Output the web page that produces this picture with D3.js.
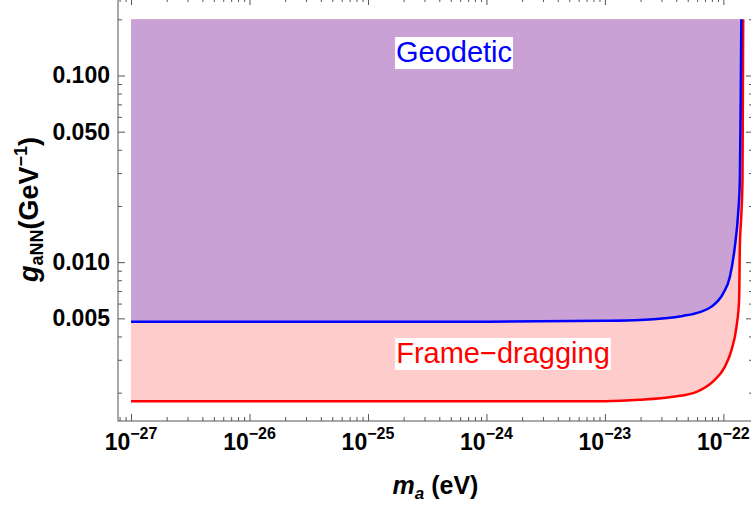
<!DOCTYPE html>
<html>
<head>
<meta charset="utf-8">
<script src="https://cdn.jsdelivr.net/npm/d3@7"></script>
<style>
  body { margin: 0; background: #fff; }
  svg { display: block; font-family: "Liberation Sans", Arial, sans-serif; }
</style>
</head>
<body>
<div id="chart"></div>
<script>
// curve: axion mass (eV) vs coupling (GeV^-1)
const geoMass = [1e-27, 1e-26, 1e-25, 1e-24, 1e-23, 1.97e-23, 4.55e-23, 6.32e-23, 7.94e-23,
  9.96e-23, 1.135e-22, 1.25e-22, 1.333e-22, 1.377e-22, 1.40e-22, 1.418e-22];
const geoCoupling = [0.0048, 0.0048, 0.0048, 0.0048, 0.00485, 0.0049, 0.00515, 0.0054, 0.00578,
  0.0068, 0.00836, 0.0121, 0.0183, 0.0275, 0.074, 0.2];

const fdMass = [1e-27, 1e-26, 1e-25, 1e-24, 1e-23, 1.97e-23, 3.75e-23, 5.94e-23, 8.15e-23,
  1.028e-22, 1.172e-22, 1.29e-22, 1.358e-22, 1.377e-22, 1.42e-22, 1.45e-22, 1.46e-22, 1.47e-22];
const fdCoupling = [0.0018, 0.0018, 0.0018, 0.0018, 0.0018, 0.00183, 0.0019, 0.00202, 0.00229,
  0.00275, 0.00339, 0.00451, 0.00627, 0.0121, 0.0183, 0.0275, 0.074, 0.2];

const fillTop = 0.2;

const xMajor = [1e-27, 1e-26, 1e-25, 1e-24, 1e-23, 1e-22];
const xExponents = ["\u221227", "\u221226", "\u221225", "\u221224", "\u221223", "\u221222"];
const yMajor = [0.005, 0.01, 0.05, 0.1];
const yLabels = ["0.005", "0.010", "0.050", "0.100"];

const width = 751, height = 506;
const pLeft = 118, pRight = 753, pTop = -2, pBottom = 421;

const svg = d3.select('#chart')
  .append('svg')
  .attr('width', width)
  .attr('height', height);

const x = d3.scaleLog()
  .domain([Math.pow(10, -27.11), Math.pow(10, -21.75)])
  .range([pLeft, pRight]);

const y = d3.scaleLog()
  .domain([0.00141, 0.26])
  .range([pBottom, pTop]);

// minor ticks, 2..9 in every decade
const xMinor = [];
for (let e = -28; e <= -22; e++) {
  for (let k = 2; k <= 9; k++) {
    const v = k * Math.pow(10, e);
    if (v > x.domain()[0] && v < x.domain()[1]) xMinor.push(v);
  }
}
const yMinor = [];
for (let e = -3; e <= -1; e++) {
  for (let k = 1; k <= 9; k++) {
    const v = k * Math.pow(10, e);
    if (v > y.domain()[0] && v < y.domain()[1] && !yMajor.some(m => Math.abs(m - v) < 1e-9)) yMinor.push(v);
  }
}

const plot = svg.append('g');

svg.append('clipPath').attr('id', 'clip')
  .append('rect')
  .attr('x', pLeft).attr('y', pTop)
  .attr('width', pRight - pLeft).attr('height', pBottom - pTop);

const fdData = fdMass.map((m, i) => ({ m: m, g: fdCoupling[i] }));
const geoData = geoMass.map((m, i) => ({ m: m, g: geoCoupling[i] }));

const area = d3.area()
  .x(d => x(d.m))
  .y0(y(fillTop))
  .y1(d => y(d.g))
  .curve(d3.curveMonotoneX);

const line = d3.line()
  .x(d => x(d.m))
  .y(d => y(d.g))
  .curve(d3.curveMonotoneX);

const marks = plot.append('g').attr('clip-path', 'url(#clip)');

marks.append('path')
  .datum(fdData)
  .attr('d', area)
  .attr('fill', '#ffcccc');

marks.append('path')
  .datum(geoData)
  .attr('d', area)
  .attr('fill', '#c9a1d4');

marks.append('path')
  .datum(fdData)
  .attr('d', line)
  .attr('fill', 'none')
  .attr('stroke', '#ff0000')
  .attr('stroke-width', 2.5);

marks.append('path')
  .datum(geoData)
  .attr('d', line)
  .attr('fill', 'none')
  .attr('stroke', '#0000ff')
  .attr('stroke-width', 2.5);

// frame with inward ticks on all four sides
const frameColor = '#555';
function tickGroup(axis, transform) {
  const g = svg.append('g').attr('transform', transform).call(axis);
  g.select('.domain').remove();
  g.selectAll('line').attr('stroke', frameColor);
  g.selectAll('text').remove();
  return g;
}
tickGroup(d3.axisBottom(x).tickValues(xMajor).tickSize(-7), `translate(0,${pBottom})`);
tickGroup(d3.axisBottom(x).tickValues(xMinor).tickSize(-4), `translate(0,${pBottom})`);
tickGroup(d3.axisTop(x).tickValues(xMajor).tickSize(-7), `translate(0,${pTop})`);
tickGroup(d3.axisTop(x).tickValues(xMinor).tickSize(-4), `translate(0,${pTop})`);
tickGroup(d3.axisLeft(y).tickValues(yMajor).tickSize(-7), `translate(${pLeft},0)`);
tickGroup(d3.axisLeft(y).tickValues(yMinor).tickSize(-4), `translate(${pLeft},0)`);
tickGroup(d3.axisRight(y).tickValues(yMajor).tickSize(-7), `translate(${pRight},0)`);
tickGroup(d3.axisRight(y).tickValues(yMinor).tickSize(-4), `translate(${pRight},0)`);

svg.append('rect')
  .attr('x', pLeft).attr('y', pTop)
  .attr('width', pRight - pLeft).attr('height', pBottom - pTop)
  .attr('fill', 'none')
  .attr('stroke', frameColor)
  .attr('stroke-width', 1);

// tick labels
const xl = svg.append('g')
  .attr('font-weight', 'bold')
  .attr('fill', '#000');
xMajor.forEach((v, i) => {
  const t = xl.append('text')
    .attr('x', x(v))
    .attr('y', 450)
    .attr('text-anchor', 'middle')
    .attr('font-size', 23);
  t.append('tspan').text('10');
  t.append('tspan').attr('dy', -11).attr('font-size', 16).text(xExponents[i]);
});

svg.append('g')
  .attr('font-weight', 'bold')
  .selectAll('text')
  .data(yMajor)
  .enter()
  .append('text')
  .attr('x', 110)
  .attr('y', d => y(d) + 8)
  .attr('text-anchor', 'end')
  .attr('font-size', 23)
  .text((d, i) => yLabels[i]);

// axis titles
const xt = svg.append('text')
  .attr('x', (pLeft + pRight) / 2)
  .attr('y', 494)
  .attr('text-anchor', 'middle')
  .attr('font-weight', 'bold')
  .attr('font-size', 25);
xt.append('tspan').attr('font-style', 'italic').text('m');
xt.append('tspan').attr('font-style', 'italic').attr('font-size', 17).attr('dy', 5).text('a');
xt.append('tspan').attr('dy', -5).text(' (eV)');

const yt = svg.append('text')
  .attr('transform', `translate(38,${(pTop + pBottom) / 2}) rotate(-90)`)
  .attr('text-anchor', 'middle')
  .attr('font-weight', 'bold')
  .attr('font-size', 27);
yt.append('tspan').attr('font-style', 'italic').text('g');
yt.append('tspan').attr('font-size', 18).attr('dy', 5).text('aNN');
yt.append('tspan').attr('dy', -5).text('(GeV');
yt.append('tspan').attr('font-size', 18).attr('dy', -11).text('\u22121');
yt.append('tspan').attr('dy', 11).text(')');

// in-plot labels with white boxes
function boxedLabel(txt, cx, baseline, color) {
  const g = svg.append('g');
  const t = g.append('text')
    .attr('x', cx)
    .attr('y', baseline)
    .attr('text-anchor', 'middle')
    .attr('font-size', 29)
    .attr('fill', color)
    .text(txt);
  const b = t.node().getBBox();
  g.insert('rect', 'text')
    .attr('x', b.x - 1).attr('y', b.y + 1)
    .attr('width', b.width + 2).attr('height', b.height)
    .attr('fill', '#fff');
}
boxedLabel('Geodetic', 454, 62, '#0000ff');
boxedLabel('Frame\u2212dragging', 503, 363, '#ff0000');
</script>
</body>
</html>
